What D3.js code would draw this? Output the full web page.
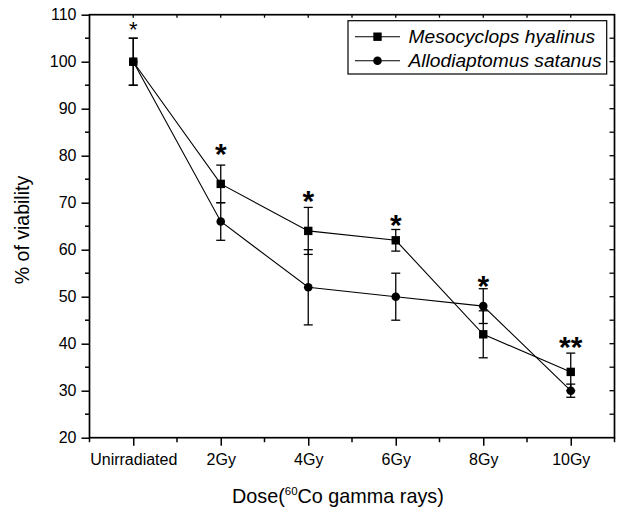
<!DOCTYPE html>
<html>
<head>
<meta charset="utf-8">
<script src="https://cdn.jsdelivr.net/npm/d3@7"></script>
<style>
  html, body { margin: 0; padding: 0; background: #fff; }
  svg { display: block; font-family: "Liberation Sans", Arial, Helvetica, sans-serif; }
</style>
</head>
<body>
<svg id="chart" width="617" height="510"></svg>
<script>
// ---- data ----
const categories = ["Unirradiated", "2Gy", "4Gy", "6Gy", "8Gy", "10Gy"];
const mesoValues = [100, 74, 64, 62, 42, 34];
const mesoErrors = [5, 4, 5, 2.3, 5, 4];
const alloValues = [100, 66, 52, 50, 48, 30];
const alloErrors = [5, 4, 8, 5, 3.7, 1.4];
const starLabels = ["*", "*", "*", "*", "*", "**"];
const starLevels = [108, 81.9, 71.9, 66.8, 53.8, 40.8];
const yTickValues = [20, 30, 40, 50, 60, 70, 80, 90, 100, 110];
const seriesNames = ["Mesocyclops hyalinus", "Allodiaptomus satanus"];

// ---- layout ----
const pL = 89.5, pR = 614.5, pT = 14.7, pB = 437.7;
const svg = d3.select("#chart");

const x = d3.scalePoint().domain(categories).range([pL, pR]).padding(0.5);
const y = d3.scaleLinear().domain([20, 110]).range([pB, pT]);
const step = x.step();

const ink = "#000";

// frame
svg.append("rect").attr("x", pL).attr("y", pT)
  .attr("width", pR - pL).attr("height", pB - pT)
  .attr("fill", "none").attr("stroke", ink).attr("stroke-width", 1.7);

// bottom axis: major ticks + labels
const xAxis = d3.axisBottom(x).tickSize(8).tickPadding(6);
const gx = svg.append("g").attr("transform", `translate(0,${pB})`).call(xAxis);
gx.select(".domain").remove();
gx.selectAll(".tick line").attr("stroke", ink).attr("stroke-width", 1.5);
gx.selectAll(".tick text").attr("font-size", 16).attr("fill", ink)
  .attr("font-family", "Liberation Sans, Arial, sans-serif").attr("dy", "0.85em");

// minor x ticks (between categories and at edges)
const minorX = d3.range(categories.length + 1).map(i => pL + i * step);
svg.append("g").selectAll("line").data(minorX).join("line")
  .attr("x1", d => d).attr("x2", d => d)
  .attr("y1", pB).attr("y2", pB + 4.5)
  .attr("stroke", ink).attr("stroke-width", 1.5);

// top axis small inward ticks
const topTicks = categories.map(c => x(c)).concat(minorX.slice(1, -1));
svg.append("g").selectAll("line").data(topTicks).join("line")
  .attr("x1", d => d).attr("x2", d => d)
  .attr("y1", pT).attr("y2", pT + 3)
  .attr("stroke", ink).attr("stroke-width", 1.3);

// left axis
const yAxis = d3.axisLeft(y).tickValues(yTickValues).tickSize(8).tickPadding(5);
const gy = svg.append("g").attr("transform", `translate(${pL},0)`).call(yAxis);
gy.select(".domain").remove();
gy.selectAll(".tick line").attr("stroke", ink).attr("stroke-width", 1.5);
gy.selectAll(".tick text").attr("font-size", 16).attr("fill", ink)
  .attr("font-family", "Liberation Sans, Arial, sans-serif");

// minor y ticks (left, outward)
const minorY = d3.range(25, 110, 10);
svg.append("g").selectAll("line").data(minorY).join("line")
  .attr("x1", pL - 4.5).attr("x2", pL)
  .attr("y1", d => y(d)).attr("y2", d => y(d))
  .attr("stroke", ink).attr("stroke-width", 1.5);

// right axis inward ticks every 5
const rightTicks = d3.range(25, 110, 5);
svg.append("g").selectAll("line").data(rightTicks).join("line")
  .attr("x1", pR - 5).attr("x2", pR)
  .attr("y1", d => y(d)).attr("y2", d => y(d))
  .attr("stroke", ink).attr("stroke-width", 1.3);

// axis titles
svg.append("text")
  .attr("transform", `translate(29,230) rotate(-90)`)
  .attr("text-anchor", "middle").attr("font-size", 19.5).attr("fill", ink)
  .text("% of viability");

const xt = svg.append("text").attr("x", 232).attr("y", 503)
  .attr("font-size", 19.8).attr("fill", ink);
xt.append("tspan").text("Dose(");
xt.append("tspan").attr("font-size", 11.5).attr("dy", -8).text("60");
xt.append("tspan").attr("dy", 8).text("Co gamma rays)");

// series
const meso = categories.map((c, i) => ({c, v: mesoValues[i], e: mesoErrors[i]}));
const allo = categories.map((c, i) => ({c, v: alloValues[i], e: alloErrors[i]}));

const line = d3.line().x(d => x(d.c)).y(d => y(d.v));
[allo, meso].forEach(s => {
  svg.append("path").datum(s).attr("d", line)
    .attr("fill", "none").attr("stroke", ink).attr("stroke-width", 1.1);
});

// error bars
function errorBars(s) {
  const g = svg.append("g").attr("stroke", ink).attr("stroke-width", 1.3);
  s.forEach(d => {
    const cx = x(d.c), y1 = y(d.v + d.e), y2 = y(d.v - d.e);
    g.append("line").attr("x1", cx).attr("x2", cx).attr("y1", y1).attr("y2", y2);
    g.append("line").attr("x1", cx - 4.5).attr("x2", cx + 4.5).attr("y1", y1).attr("y2", y1);
    g.append("line").attr("x1", cx - 4.5).attr("x2", cx + 4.5).attr("y1", y2).attr("y2", y2);
  });
}
errorBars(allo);
errorBars(meso);

// markers
svg.append("g").selectAll("circle").data(allo).join("circle")
  .attr("cx", d => x(d.c)).attr("cy", d => y(d.v)).attr("r", 4.3).attr("fill", ink);
svg.append("g").selectAll("rect").data(meso).join("rect")
  .attr("x", d => x(d.c) - 4.2).attr("y", d => y(d.v) - 4.2)
  .attr("width", 8.4).attr("height", 8.4).attr("fill", ink);

// significance stars
svg.append("g").selectAll("text").data(categories).join("text")
  .attr("x", d => x(d))
  .attr("y", (d, i) => y(starLevels[i]) + (i === 0 ? 0.57 * 22 : 0.57 * 30))
  .attr("text-anchor", "middle")
  .attr("font-size", (d, i) => i === 0 ? 22 : 30)
  .attr("font-weight", (d, i) => i === 0 ? "normal" : "bold")
  .attr("fill", ink)
  .text((d, i) => starLabels[i]);

// legend
const lg = svg.append("g");
lg.append("rect").attr("x", 348).attr("y", 20.7).attr("width", 258.7).attr("height", 53.3)
  .attr("fill", "#fff").attr("stroke", ink).attr("stroke-width", 1.2);
seriesNames.forEach((name, i) => {
  const ry = 36.7 + i * 24;
  lg.append("line").attr("x1", 355).attr("x2", 400).attr("y1", ry).attr("y2", ry)
    .attr("stroke", ink).attr("stroke-width", 1.1);
  if (i === 0) {
    lg.append("rect").attr("x", 377.5 - 4.2).attr("y", ry - 4.2).attr("width", 8.4).attr("height", 8.4).attr("fill", ink);
  } else {
    lg.append("circle").attr("cx", 377.5).attr("cy", ry).attr("r", 4.3).attr("fill", ink);
  }
  lg.append("text").attr("x", 408.5).attr("y", ry + 6.5)
    .attr("font-size", 19.2).attr("font-style", "italic").attr("fill", ink).text(name);
});
</script>
</body>
</html>
